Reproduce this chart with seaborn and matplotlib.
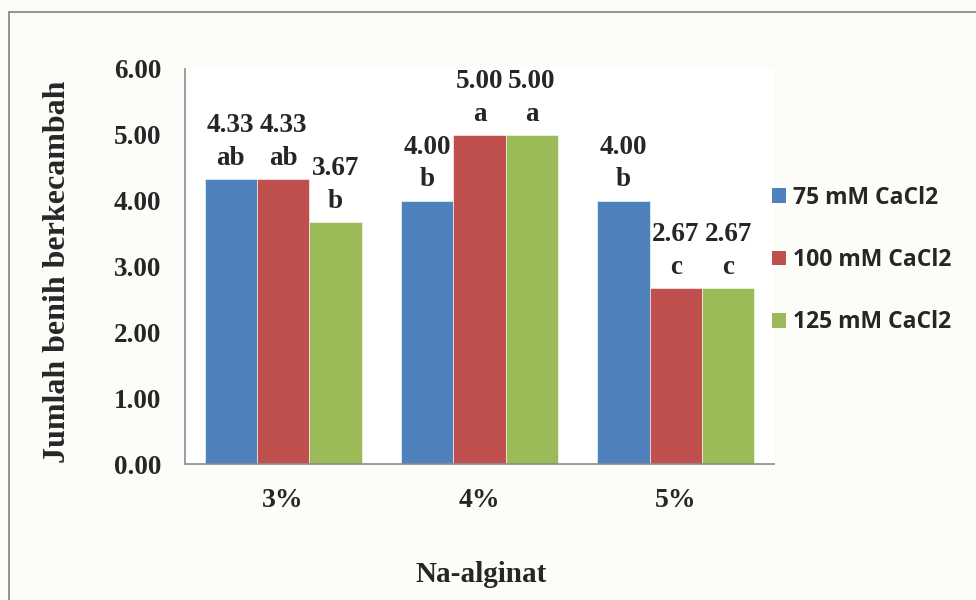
import matplotlib
matplotlib.use("Agg")
import matplotlib.pyplot as plt
from matplotlib.lines import Line2D
from matplotlib.patches import Patch
import seaborn as sns
import pandas as pd

# Data
concentrations = ["3%", "4%", "5%"]
treatments = ["75 mM CaCl2", "100 mM CaCl2", "125 mM CaCl2"]
values_75 = [4.33, 4.00, 4.00]
values_100 = [4.33, 5.00, 2.67]
values_125 = [3.67, 5.00, 2.67]
letters_75 = ["ab", "b", "b"]
letters_100 = ["ab", "a", "c"]
letters_125 = ["b", "a", "c"]
y_ticks = [0, 1, 2, 3, 4, 5, 6]

colors = ["#4F81BD", "#C0504D", "#9BBB59"]

rows = []
for t, vals in zip(treatments, [values_75, values_100, values_125]):
    for c, v in zip(concentrations, vals):
        rows.append({"Na-alginat": c, "Perlakuan": t, "Jumlah": v})
df = pd.DataFrame(rows)

sns.set_style("white")
serif = "Liberation Serif"

fig = plt.figure(figsize=(9.76, 6.0), dpi=100, facecolor="#FCFCF8")
ax = fig.add_axes([185 / 976, 136 / 600, (774 - 185) / 976, (464 - 69) / 600])
ax.set_facecolor("white")

sns.barplot(data=df, x="Na-alginat", y="Jumlah", hue="Perlakuan",
            order=concentrations, hue_order=treatments, palette=colors,
            width=0.8, gap=0, saturation=1, errorbar=None, ax=ax,
            edgecolor="#FFFFFF", linewidth=0.4, legend=False)

ax.set_xlim(-0.5, 2.5)
ax.set_ylim(0, 6)
ax.set_yticks(y_ticks)
ax.set_yticklabels([f"{v:.2f}" for v in y_ticks], fontfamily=serif,
                   fontweight="bold", fontsize=19.5)
ax.set_xticks(range(len(concentrations)))
ax.set_xticklabels(concentrations, fontfamily=serif, fontweight="bold", fontsize=20)
ax.tick_params(axis="y", length=0, pad=17)
ax.tick_params(axis="x", length=0, pad=17)

for side in ["top", "right"]:
    ax.spines[side].set_visible(False)
for side in ["left", "bottom"]:
    ax.spines[side].set_color("#8C8C8C")
    ax.spines[side].set_linewidth(1.2)

ax.set_xlabel("")
ax.set_ylabel("")
fig.text(58 / 976, 1 - 272 / 600, "Jumlah benih berkecambah", rotation=90,
         ha="center", va="center", fontfamily=serif, fontweight="bold", fontsize=23)
fig.text(481 / 976, 1 - 574 / 600, "Na-alginat", ha="center", va="center",
         fontfamily=serif, fontweight="bold", fontsize=21)

all_vals = [values_75, values_100, values_125]
all_letters = [letters_75, letters_100, letters_125]
for cont, vals, lets in zip(ax.containers, all_vals, all_letters):
    labels = [f"{v:.2f}\n{l}" for v, l in zip(vals, lets)]
    ax.bar_label(cont, labels=labels, padding=6, fontfamily=serif,
                 fontweight="bold", fontsize=19.5, linespacing=1.4)

handles = [Patch(facecolor=c, edgecolor="none") for c in colors]
fig.legend(handles, treatments, loc="center left",
           bbox_to_anchor=(751 / 976, 1 - 260 / 600), frameon=False,
           prop={"family": "Open Sans", "weight": "bold", "size": 16.5},
           handlelength=0.62, handleheight=0.62, handletextpad=0.32,
           labelspacing=1.68)

# Outer frame (top and left edges)
fig.add_artist(Line2D([9 / 976, 1.0], [1 - 12 / 600, 1 - 12 / 600],
                      transform=fig.transFigure, color="#8A8A8A", linewidth=1.3))
fig.add_artist(Line2D([9 / 976, 9 / 976], [0.0, 1 - 12 / 600],
                      transform=fig.transFigure, color="#8A8A8A", linewidth=1.3))

fig.savefig("out.png", dpi=100, facecolor=fig.get_facecolor())
